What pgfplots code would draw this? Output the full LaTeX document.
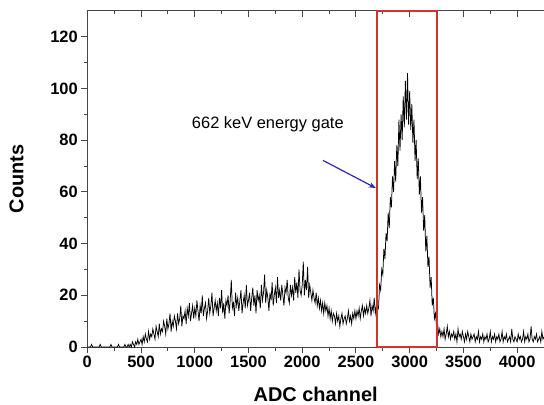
\documentclass[border=0pt]{standalone}
\usepackage{pgfplots}
\pgfplotsset{compat=1.18}
\usepackage{fontspec}
\setmainfont{Liberation Sans}
\usetikzlibrary{arrows.meta}
\definecolor{gatered}{RGB}{204,52,52}
\definecolor{arrowblue}{RGB}{40,40,180}
\definecolor{axgray}{RGB}{70,70,70}

\pgfplotstableread{
x y
0 0
10 0
20 0
30 0
40 1
50 0
60 0
70 0
80 0
90 0
100 0
110 0
120 1
130 0
140 0
150 0
160 0
170 0
180 0
190 0
200 0
210 0
220 1
230 0
240 0
250 0
260 0
270 0
280 0
290 1
300 0
310 0
320 0
330 0
340 0
350 1
360 0
370 0
380 1
390 0
400 1
410 0
420 2
430 1
440 0
450 2
460 1
470 3
480 1
490 2
500 3
510 1
520 4
530 2
540 5
550 3
560 2
570 6
580 3
590 5
600 4
610 7
620 5
630 3
640 8
650 6
660 4
670 9
680 5
690 7
700 6
710 10
720 8
730 5
740 11
750 7
760 9
770 13
780 6
790 10
800 8
810 12
820 10
830 7
840 13
850 9
860 11
870 16
880 8
890 12
900 11
910 14
920 9
930 15
940 12
950 17
960 10
970 13
980 16
990 11
1000 15
1010 12
1020 18
1030 14
1040 10
1050 16
1060 13
1070 20
1080 12
1090 15
1100 17
1110 11
1120 14
1130 19
1140 13
1150 16
1160 21
1170 12
1180 15
1190 18
1200 14
1210 17
1220 12
1230 19
1240 15
1250 22
1260 13
1270 17
1280 11
1290 18
1300 16
1310 20
1320 13
1330 18
1340 26
1350 15
1360 17
1370 12
1380 21
1390 16
1400 19
1410 14
1420 18
1430 22
1440 13
1450 17
1460 20
1470 15
1480 24
1490 16
1500 18
1510 21
1520 14
1530 19
1540 23
1550 16
1560 20
1570 13
1580 22
1590 18
1600 20
1610 15
1620 24
1630 18
1640 21
1650 28
1660 17
1670 22
1680 19
1690 14
1700 21
1710 18
1720 25
1730 16
1740 20
1750 23
1760 17
1770 27
1780 19
1790 22
1800 18
1810 24
1820 20
1830 16
1840 23
1850 21
1860 26
1870 19
1880 17
1890 24
1900 20
1910 23
1920 18
1930 27
1940 21
1950 25
1960 19
1970 30
1980 22
1990 20
2000 24
2010 33
2020 20
2030 26
2040 22
2050 31
2060 19
2070 24
2080 21
2090 18
2100 22
2110 19
2120 17
2130 21
2140 16
2150 19
2160 15
2170 18
2180 14
2190 17
2200 13
2210 17
2220 14
2230 16
2240 12
2250 15
2260 11
2270 14
2280 10
2290 13
2300 12
2310 9
2320 13
2330 10
2340 12
2350 8
2360 11
2370 13
2380 9
2390 11
2400 12
2410 9
2420 11
2430 14
2440 10
2450 12
2460 9
2470 13
2480 11
2490 14
2500 11
2510 14
2520 12
2530 15
2540 11
2550 14
2560 16
2570 12
2580 15
2590 13
2600 16
2610 13
2620 15
2630 18
2640 12
2650 16
2660 14
2670 19
2680 13
2690 16
2700 16
2710 15
2720 24
2730 22
2740 30
2750 28
2760 38
2770 34
2780 44
2790 41
2800 52
2810 46
2820 58
2830 54
2840 66
2850 60
2860 72
2870 64
2880 78
2890 70
2900 88
2910 76
2920 90
2930 80
2940 97
2950 85
2960 103
2970 88
2980 106
2990 86
3000 99
3010 84
3020 94
3030 79
3040 88
3050 72
3060 80
3070 65
3080 73
3090 59
3100 66
3110 52
3120 58
3130 45
3140 51
3150 37
3160 43
3170 31
3180 35
3190 23
3200 27
3210 16
3220 19
3230 11
3240 13
3250 8
3260 9
3270 5
3280 7
3290 4
3300 6
3310 4
3320 7
3330 3
3340 5
3350 8
3360 4
3370 6
3380 3
3390 5
3400 4
3410 6
3420 3
3430 5
3440 2
3450 7
3460 4
3470 5
3480 3
3490 6
3500 4
3510 2
3520 5
3530 3
3540 6
3550 4
3560 2
3570 5
3580 3
3590 4
3600 5
3610 2
3620 4
3630 3
3640 6
3650 2
3660 4
3670 3
3680 5
3690 2
3700 4
3710 3
3720 5
3730 2
3740 3
3750 6
3760 2
3770 4
3780 3
3790 5
3800 2
3810 4
3820 3
3830 5
3840 2
3850 3
3860 6
3870 2
3880 4
3890 3
3900 5
3910 2
3920 3
3930 4
3940 2
3950 7
3960 3
3970 2
3980 4
3990 3
4000 2
4010 5
4020 3
4030 4
4040 2
4050 3
4060 6
4070 2
4080 4
4090 3
4100 5
4110 2
4120 3
4130 8
4140 3
4150 2
4160 4
4170 3
4180 5
4190 2
4200 3
4210 4
4220 2
4230 6
4240 3
4250 4
}\spectrum

\begin{document}
\begin{tikzpicture}
\begin{axis}[name=ax,
  scale only axis, width=456.7bp, height=336bp,
  xmin=0, xmax=4250, ymin=0, ymax=130,
  axis x line*=bottom, axis y line*=left,
  xtick={0,500,...,4000}, ytick={0,20,...,120},
  minor x tick num=1, minor y tick num=1,
  tick align=outside,
  major tick length=6bp, minor tick length=3.5bp,
  axis line style={line width=1pt, color=axgray},
  every tick/.style={line width=1pt, axgray},
  tick label style={font=\fontsize{16.5}{18}\selectfont\bfseries},
  /pgf/number format/assume math mode=true,
  /pgf/number format/1000 sep={},
  xlabel={ADC channel}, ylabel={Counts},
  every axis x label/.style={at={(axis description cs:0.5,-0.14)}, anchor=center, font=\fontsize{20}{22}\selectfont\bfseries},
  every axis y label/.style={at={(axis description cs:-0.155,0.5)}, anchor=center, rotate=90, font=\fontsize{20}{22}\selectfont\bfseries},
  clip=false,
]
\addplot[black, line width=0.75pt, mark=none] table[x=x, y=y] {\spectrum};
\node[font=\fontsize{16.5}{18}\selectfont] at (axis cs:1680,86) {662 keV energy gate};
\draw[arrowblue, line width=1.2pt, -{Stealth[length=7pt,width=5.5pt]}] (axis cs:2193,72.2) -- (axis cs:2685,61.5);
\end{axis}
\begin{axis}[
  scale only axis, width=456.7bp, height=336bp,
  at={(ax.south west)}, anchor=south west,
  xmin=0, xmax=4250, ymin=0, ymax=130,
  axis x line*=top, axis y line=none,
  xtick={0,500,...,4000}, minor x tick num=1,
  xticklabels={},
  tick align=inside,
  major tick length=6bp, minor tick length=3.5bp,
  axis line style={line width=1pt, color=axgray},
  every tick/.style={line width=1pt, axgray},
  clip=false,
]
\addplot[draw=gatered, line width=2pt, mark=none] coordinates {(2700,0) (2700,130) (3250,130) (3250,0) (2700,0)};
\end{axis}
\pgfresetboundingbox
\path[use as bounding box] ([shift={(-87.3bp,-58bp)}]ax.south west) rectangle ([shift={(0bp,11bp)}]ax.north east);
\end{tikzpicture}
\end{document}
